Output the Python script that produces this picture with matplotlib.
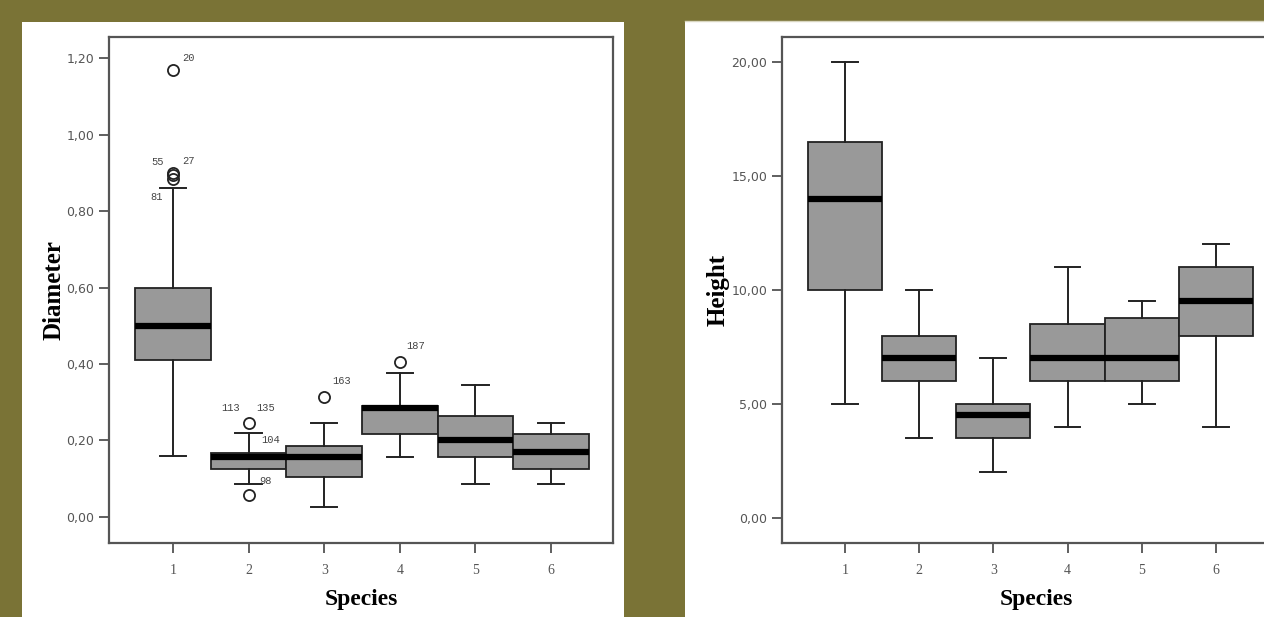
import matplotlib
matplotlib.use("Agg")
import matplotlib.pyplot as plt
from matplotlib.patches import Rectangle

# %%
# dados
species = [1, 2, 3, 4, 5, 6]

diam_q1 = [0.41, 0.125, 0.105, 0.217, 0.157, 0.125]
diam_med = [0.50, 0.157, 0.157, 0.285, 0.201, 0.170]
diam_q3 = [0.60, 0.167, 0.186, 0.290, 0.264, 0.217]
diam_lo = [0.16, 0.086, 0.026, 0.157, 0.086, 0.086]
diam_hi = [0.86, 0.22, 0.245, 0.376, 0.345, 0.245]
diam_fliers = [[1.17, 0.900, 0.893, 0.885], [0.245, 0.057], [0.314], [0.405], [], []]

# rótulos dos outliers (espécie, valor, id)
lab_species = [1, 1, 1, 1, 2, 2, 2, 2, 3, 4]
lab_values = [1.17, 0.900, 0.893, 0.885, 0.245, 0.245, 0.22, 0.057, 0.314, 0.405]
lab_ids = ['20', '27', '55', '81', '113', '135', '104', '98', '163', '187']

height_q1 = [10.0, 6.0, 3.5, 6.0, 6.0, 8.0]
height_med = [14.0, 7.0, 4.5, 7.0, 7.0, 9.5]
height_q3 = [16.5, 8.0, 5.0, 8.5, 8.75, 11.0]
height_lo = [5.0, 3.5, 2.0, 4.0, 5.0, 4.0]
height_hi = [20.0, 10.0, 7.0, 11.0, 9.5, 12.0]

diam_ticks = [0.0, 0.2, 0.4, 0.6, 0.8, 1.0, 1.2]
height_ticks = [0.0, 5.0, 10.0, 15.0, 20.0]

# deslocamento dos rótulos em pixels
lab_offsets = {'20': (15, 12), '27': (15, 12), '55': (-15, 13), '81': (-16, -18),
               '113': (-18, 15), '135': (17, 15), '104': (22, -7), '98': (17, 14),
               '163': (17, 16), '187': (16, 16)}

# %%
olive = '#7a7336'
fig = plt.figure(figsize=(12.64, 6.17), dpi=100, facecolor=olive)
W, H = 1264, 617
fig.patches.append(Rectangle((22 / W, 0), (624 - 22) / W, (617 - 22) / H,
                             transform=fig.transFigure, facecolor='white', edgecolor='none', zorder=-5))
fig.patches.append(Rectangle((685 / W, 0), (1264 - 685) / W, (617 - 22) / H,
                             transform=fig.transFigure, facecolor='white', edgecolor='none', zorder=-5))
fig.add_artist(plt.Line2D([685 / W, 1], [(617 - 21) / H] * 2, transform=fig.transFigure,
                          color='#d8d6c0', linewidth=1, zorder=-4))

ax1 = fig.add_axes([109 / W, (617 - 543) / H, (613 - 109) / W, (543 - 37) / H])
ax2 = fig.add_axes([782 / W, (617 - 543) / H, (1290 - 782) / W, (543 - 37) / H])


def stats(q1, med, q3, lo, hi, fl=None):
    out = []
    for i in range(len(q1)):
        out.append({'q1': q1[i], 'med': med[i], 'q3': q3[i], 'whislo': lo[i],
                    'whishi': hi[i], 'fliers': fl[i] if fl else []})
    return out


def draw(ax, st):
    ax.bxp(st, positions=species, widths=1.0, patch_artist=True,
           boxprops=dict(facecolor='#999999', edgecolor='#222222', linewidth=1.3),
           medianprops=dict(color='black', linewidth=4.5, solid_capstyle='butt'),
           whiskerprops=dict(color='#222222', linewidth=1.4),
           capprops=dict(color='#222222', linewidth=1.4),
           capwidths=0.35,
           flierprops=dict(marker='o', markerfacecolor='none', markeredgecolor='#222222',
                           markersize=8, markeredgewidth=1.3))
    ax.set_facecolor('white')
    for s in ax.spines.values():
        s.set_color('#555555')
        s.set_linewidth(1.6)
    ax.tick_params(axis='both', direction='out', length=7, width=1.2, color='#444444',
                   labelsize=9, labelcolor='#555555')
    ax.tick_params(axis='x', labelsize=10, pad=8)
    ax.set_xticks(species)
    ax.set_xticklabels([str(s) for s in species], fontfamily='Liberation Serif')
    ax.set_xlabel('Species', fontsize=17, fontweight='bold', fontfamily='Liberation Serif')
    ax.xaxis.set_label_coords(0.5, -0.09)


draw(ax1, stats(diam_q1, diam_med, diam_q3, diam_lo, diam_hi, diam_fliers))
ax1.set_xlim(0.153, 6.82)
ax1.set_ylim(-0.068, 1.255)
ax1.set_yticks(diam_ticks)
ax1.set_yticklabels([f'{v:.2f}'.replace('.', ',') for v in diam_ticks], fontfamily='DejaVu Sans')
ax1.set_ylabel('Diameter', fontsize=18, fontweight='bold', fontfamily='Liberation Serif')
ax1.yaxis.set_label_coords(-0.087, 0.5)

for sp, v, t in zip(lab_species, lab_values, lab_ids):
    ax1.annotate(t, (sp, v), xytext=lab_offsets[t], textcoords='offset pixels',
                 ha='center', va='center', fontsize=7.5, color='#444444',
                 fontfamily='Liberation Mono')

draw(ax2, stats(height_q1, height_med, height_q3, height_lo, height_hi))
ax2.set_xlim(0.15, 7.0)
ax2.set_ylim(-1.1, 21.1)
ax2.set_yticks(height_ticks)
ax2.set_yticklabels([f'{v:.2f}'.replace('.', ',') for v in height_ticks], fontfamily='DejaVu Sans')
ax2.set_ylabel('Height', fontsize=18, fontweight='bold', fontfamily='Liberation Serif')
ax2.yaxis.set_label_coords(-0.104, 0.5)

fig.savefig('out.png', dpi=100, facecolor=olive)
